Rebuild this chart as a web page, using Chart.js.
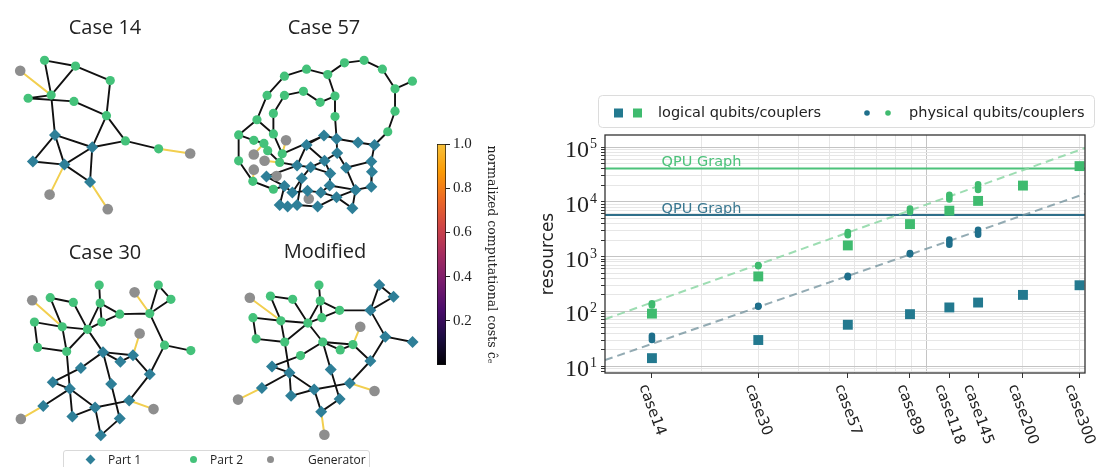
<!DOCTYPE html>
<html>
<head>
<meta charset="utf-8">
<script src="https://cdn.jsdelivr.net/npm/chart.js@4.4.1/dist/chart.umd.min.js"></script>
<style>
    html, body { margin: 0; padding: 0; background: #fff; }
    body { width: 1097px; height: 467px; position: relative; overflow: hidden; font-family: 'Open Sans', sans-serif; }
    .box { position: absolute; }
    .box canvas { display: block; }
    #legL { position: absolute; left: 63px; top: 450px; width: 305px; height: 30px; border: 1px solid #d9d9d9; border-radius: 3px; background: #fff; }
    #legL span { position: absolute; }
    #legL .tx { top: 1px; font-size: 12px; color: #222; line-height: 16px; }
    .dia { width: 7px; height: 7px; background: #2e7f98; transform: rotate(45deg); top: 5px; }
    .dot { width: 7px; height: 7px; border-radius: 50%; top: 5px; }
</style>
</head>
<body>
<div class="box" style="left:0;top:0;width:230px;height:230px"><canvas id="g14"></canvas></div>
<div class="box" style="left:220px;top:0;width:230px;height:230px"><canvas id="g57"></canvas></div>
<div class="box" style="left:0;top:230px;width:230px;height:237px"><canvas id="g30"></canvas></div>
<div class="box" style="left:220px;top:230px;width:250px;height:237px"><canvas id="gmod"></canvas></div>
<div class="box" style="left:425px;top:130px;width:80px;height:250px"><canvas id="cbar"></canvas></div>
<div id="legL">
    <span class="dia" style="left:23px"></span><span class="tx" style="left:44px">Part 1</span>
    <span class="dot" style="left:126px;background:#44c27a"></span><span class="tx" style="left:146px">Part 2</span>
    <span class="dot" style="left:203px;background:#8e8e8e"></span><span class="tx" style="left:244px">Generator</span>
</div>
<div class="box" style="left:515px;top:85px;width:582px;height:382px"><canvas id="res"></canvas></div>

<script>
// ---- resources chart data ----
const caseNames = ['case14', 'case30', 'case57', 'case89', 'case118', 'case145', 'case200', 'case300'];
const busCounts = [14, 30, 57, 89, 118, 145, 200, 300];
const logicalQubits = [14, 30, 57, 89, 118, 145, 200, 300];
const logicalCouplers = [91, 435, 1600, 3920, 6900, 10400, 19800, 44900];
const physicalQubitsRuns = [
    [30, 122, 420, 1100, 1650, 2500, null, null],
    [33, 124, 433, 1130, 1850, 2750, null, null],
    [36, 126, 445, 1160, 2050, 3100, null, null]
];
const physicalCouplersRuns = [
    [128, 670, 2450, 6500, 11000, 16500, null, null],
    [134, 686, 2600, 7000, 12300, 18500, null, null],
    [140, 700, 2800, 7500, 13500, 21000, null, null]
];
const fitX = [10, 312];
const fitQubits = [12.9, 14000];
const fitCouplers = [72, 96000];
const qpuQubits = 5760;
const qpuCouplers = 40484;
const qpuLabelX = 15;
const xMin = 10, xMax = 312, yMin = 7.5, yMax = 166000;
const xGridValues = [20, 30, 40, 50, 60, 70, 80, 90, 100, 200, 300];
const yExponents = [1, 2, 3, 4, 5];

// ---- colorbar data ----
const cbarTicks = [0.2, 0.4, 0.6, 0.8, 1.0];
const cbarColors = ['#000004', '#1b0c41', '#4a0c6b', '#781c6d', '#a52c60', '#cf4446', '#ed6925', '#fb9b06', '#f7c13a'];

// ---- graph layouts (node x, y in layout units; part: 1 = Part 1, 2 = Part 2, 0 = Generator) ----
const case14Nodes = [[122,172],[220,190],[330,236],[143,282],[70,292],[215,302],[318,347],[378,427],[483,452],
    [155,408],[273,447],[85,492],[185,502],[266,557],[45,205],[583,467],[138,597],[322,643]];
const case14Parts = [2,2,2,2,2,2,2,2,2,1,1,1,1,1,0,0,0,0];
const case14Edges = [[0,1],[0,3],[1,3],[1,2],[2,6],[4,3],[4,5],[5,6],[3,9],[6,10],[6,7],[7,10],[7,8],
    [9,10],[9,11],[9,12],[11,12],[12,10],[12,13],[10,13]];
const case14GenEdges = [[14,3],[15,8],[16,12],[17,13]];

const case57Nodes = [[40,408],[98,360],[130,283],[185,222],[255,200],[322,217],[375,180],[437,172],[495,200],
    [535,262],[590,238],[535,333],[512,398],[150,340],[185,283],[245,270],[298,305],[345,285],[345,350],
    [150,405],[88,425],[120,435],[178,468],[170,495],[40,490],[85,555],[150,580],[132,458],
    [310,410],[350,420],[418,432],[470,440],[255,440],[352,465],[460,492],[225,505],[268,510],[312,490],
    [380,512],[462,525],[128,540],[185,570],[240,545],[330,530],[328,568],[410,582],[460,572],[170,630],
    [195,635],[225,630],[290,635],[350,605],[400,640],[210,590],[258,585],[300,590],
    [190,425],[88,470],[122,490],[88,518],[160,538],[262,610]];
const case57Parts = [2,2,2,2,2,2,2,2,2,2,2,2,2,2,2,2,2,2,2,2,2,2,2,2,2,2,2,2,
    1,1,1,1,1,1,1,1,1,1,1,1,1,1,1,1,1,1,1,1,1,1,1,1,1,1,1,1,0,0,0,0,0,0];
const case57Edges = [[24,0],[0,1],[1,2],[2,3],[3,4],[4,5],[5,6],[6,7],[7,8],[8,9],[9,10],[9,11],[11,12],
    [12,31],[31,30],[30,29],[29,28],[19,13],[13,14],[14,15],[15,16],[16,17],[5,17],[17,18],[18,29],
    [0,20],[1,19],[20,21],[21,27],[19,22],[22,23],[27,23],[24,25],[25,26],[26,41],[28,32],[32,35],
    [35,40],[29,33],[33,37],[37,36],[36,35],[33,38],[38,34],[34,31],[34,39],[39,46],[46,45],[45,38],
    [45,51],[51,50],[50,49],[49,48],[48,47],[47,41],[41,53],[53,54],[54,55],[55,44],[44,43],[43,37],
    [42,36],[42,53],[42,49],[55,51],[44,45],[52,45],[52,51],[28,22],[23,35],[40,41],[36,43],[32,37]];
const case57GenEdges = [[56,22],[57,21],[58,23],[59,25],[60,40],[61,54]];

const case30Nodes = [[295,155],[482,155],[140,195],[213,210],[298,212],[522,200],[360,247],[455,245],
    [90,272],[178,287],[258,295],[303,272],[100,352],[192,365],[502,345],[585,362],
    [307,367],[402,377],[362,397],[237,417],[455,437],[148,462],[202,483],[333,468],[390,520],
    [118,537],[282,542],[210,570],[360,577],[300,630],
    [83,203],[407,178],[423,308],[467,547],[47,578]];
const case30Parts = [2,2,2,2,2,2,2,2,2,2,2,2,2,2,2,2,1,1,1,1,1,1,1,1,1,1,1,1,1,1,0,0,0,0,0];
const case30Edges = [[0,4],[2,3],[2,9],[3,10],[8,9],[8,12],[12,13],[9,13],[9,10],[10,11],[10,4],[4,11],
    [4,6],[11,6],[6,7],[7,1],[7,5],[1,5],[7,14],[14,15],[14,20],[10,13],[10,16],[13,22],[16,19],
    [19,21],[16,18],[16,17],[18,17],[17,20],[20,24],[16,23],[23,28],[21,22],[22,25],[22,26],[22,27],
    [27,26],[26,24],[26,29],[29,28]];
const case30GenEdges = [[30,9],[31,7],[32,17],[33,24],[34,25]];

const modNodes = [[293,155],[483,155],[140,190],[210,200],[297,205],[528,192],[358,235],[455,235],
    [85,258],[173,268],[258,275],[302,258],[95,325],[185,335],[502,318],[588,335],
    [305,335],[400,343],[360,360],[235,378],[455,395],[145,412],[200,432],[330,422],[390,465],
    [113,480],[278,485],[205,505],[358,515],[300,555],
    [75,195],[423,287],[468,490],[38,517],[310,628]];
const modParts = [2,1,2,2,2,1,2,1,2,2,2,2,2,2,1,1,2,2,2,2,1,1,1,1,1,1,1,1,1,1,0,0,0,0,0];
const modGenEdges = [[30,9],[31,17],[32,24],[33,25],[34,29]];

const colBlue = '#2e7f98', colGreen = '#44c27a', colGray = '#8e8e8e', colYellow = '#f2cf4f';

// ---- 1. NETWORK GRAPHS ----
const graphTitle = {
    id: 'graphTitle',
    afterDraw(chart, args, opts) {
        const ctx = chart.ctx;
        ctx.save();
        ctx.font = '20px "Open Sans"';
        ctx.fillStyle = '#222';
        ctx.textAlign = 'center';
        ctx.textBaseline = 'middle';
        ctx.fillText(opts.text, opts.x, opts.y);
        ctx.restore();
    }
};

function drawGraph(id, title, tx, ty, nodes, parts, edges, genEdges, w, h) {
    const pick = code => nodes.filter((p, i) => parts[i] === code).map(p => ({ x: p[0], y: p[1] }));
    const seg = list => list.flatMap(([a, b]) => [
        { x: nodes[a][0], y: nodes[a][1] }, { x: nodes[b][0], y: nodes[b][1] }, { x: null, y: null }
    ]);
    new Chart(document.getElementById(id), {
        type: 'scatter',
        data: {
            datasets: [
                { data: pick(1), pointStyle: 'rectRot', pointRadius: 6, backgroundColor: colBlue, borderWidth: 0, clip: false },
                { data: pick(2), pointStyle: 'circle', pointRadius: 4.6, backgroundColor: colGreen, borderWidth: 0, clip: false },
                { data: pick(0), pointStyle: 'circle', pointRadius: 5.3, backgroundColor: colGray, borderWidth: 0, clip: false },
                { type: 'line', data: seg(genEdges), borderColor: colYellow, borderWidth: 2, pointRadius: 0, spanGaps: false, clip: false },
                { type: 'line', data: seg(edges), borderColor: '#111', borderWidth: 1.9, pointRadius: 0, spanGaps: false, clip: false }
            ]
        },
        options: {
            responsive: true,
            maintainAspectRatio: false,
            animation: false,
            events: [],
            layout: { padding: 0 },
            scales: {
                x: { type: 'linear', display: false, min: 0, max: w * 3 },
                y: { type: 'linear', display: false, min: 0, max: h * 3, reverse: true }
            },
            plugins: {
                legend: { display: false },
                tooltip: { enabled: false },
                graphTitle: { text: title, x: tx, y: ty }
            }
        },
        plugins: [graphTitle]
    });
}

drawGraph('g14', 'Case 14', 105, 28, case14Nodes, case14Parts, case14Edges, case14GenEdges, 230, 230);
drawGraph('g57', 'Case 57', 104, 28, case57Nodes, case57Parts, case57Edges, case57GenEdges, 230, 230);
drawGraph('g30', 'Case 30', 105, 23, case30Nodes, case30Parts, case30Edges, case30GenEdges, 230, 237);
drawGraph('gmod', 'Modified', 105, 22, modNodes, modParts, case30Edges, modGenEdges, 250, 237);

// ---- 2. COLORBAR ----
new Chart(document.getElementById('cbar'), {
    type: 'bar',
    data: {
        labels: [''],
        datasets: [{
            data: [1],
            backgroundColor: c => {
                const a = c.chart.chartArea;
                if (!a) return null;
                const g = c.chart.ctx.createLinearGradient(0, a.bottom, 0, a.top);
                cbarColors.forEach((col, i) => g.addColorStop(i / (cbarColors.length - 1), col));
                return g;
            },
            borderColor: '#111',
            borderWidth: 1,
            borderSkipped: false,
            barPercentage: 1,
            categoryPercentage: 1
        }]
    },
    options: {
        responsive: true,
        maintainAspectRatio: false,
        animation: false,
        events: [],
        layout: { padding: { left: 12, top: 14, bottom: 15, right: 0 } },
        scales: {
            x: { display: false },
            y: {
                position: 'right', min: 0, max: 1,
                afterBuildTicks: s => { s.ticks = cbarTicks.map(v => ({ value: v })); },
                ticks: { font: { family: 'Liberation Serif', size: 15 }, color: '#222', padding: 3, callback: v => v.toFixed(1) },
                grid: { drawOnChartArea: false, tickLength: 4, tickColor: '#222' },
                border: { display: false },
                title: { display: true, text: 'normalized computational costs ĉₑ', color: '#222',
                    font: { family: 'DejaVu Serif', size: 12.5 }, padding: { top: 6, bottom: 0 } },
                afterFit: s => { s.width = 59; }
            }
        },
        plugins: { legend: { display: false }, tooltip: { enabled: false } }
    }
});

// ---- 3. RESOURCES CHART ----
const pairs = (xs, ys) => xs.map((x, i) => ({ x: x, y: ys[i] }));

const resDecor = {
    id: 'resDecor',
    afterDraw(chart) {
        const { ctx, chartArea: a, scales: { x, y } } = chart;
        ctx.save();
        // frame
        ctx.strokeStyle = '#333';
        ctx.lineWidth = 1.3;
        ctx.strokeRect(a.left, a.top, a.width, a.height);

        // y tick labels 10^n
        ctx.fillStyle = '#222';
        ctx.textAlign = 'right';
        ctx.textBaseline = 'alphabetic';
        yExponents.forEach(e => {
            const py = y.getPixelForValue(Math.pow(10, e));
            ctx.font = '14px "Liberation Serif"';
            const ew = ctx.measureText(String(e)).width;
            ctx.fillText(String(e), a.left - 8, py + 1);
            ctx.font = '24px "Liberation Serif"';
            ctx.fillText('10', a.left - 9 - ew, py + 10);
        });

        // rotated case labels
        ctx.font = '15px "DejaVu Sans"';
        ctx.textAlign = 'center';
        ctx.textBaseline = 'middle';
        const th = 70 * Math.PI / 180;
        caseNames.forEach((name, i) => {
            const px = x.getPixelForValue(busCounts[i]);
            const L = ctx.measureText(name).width;
            const bh = L * Math.sin(th) + 11 * Math.cos(th);
            ctx.save();
            ctx.translate(px, a.bottom + 10 + bh / 2);
            ctx.rotate(th);
            ctx.fillText(name, 0, 0);
            ctx.restore();
        });

        // QPU Graph labels
        ctx.font = '14.5px "DejaVu Sans"';
        ctx.textAlign = 'left';
        ctx.textBaseline = 'alphabetic';
        const lx = x.getPixelForValue(qpuLabelX);
        ctx.fillStyle = '#4cc27a';
        ctx.fillText('QPU Graph', lx, y.getPixelForValue(qpuCouplers) - 3);
        ctx.fillStyle = '#3a7891';
        ctx.fillText('QPU Graph', lx, y.getPixelForValue(qpuQubits) - 2);

        // legend
        ctx.strokeStyle = '#dcdcdc';
        ctx.lineWidth = 1;
        ctx.beginPath();
        ctx.roundRect(83.5, 10.5, 496, 32, 4);
        ctx.stroke();
        const ly = 28;
        ctx.fillStyle = '#23798f'; ctx.fillRect(99, ly - 4.5, 9, 9);
        ctx.fillStyle = '#3fbb6f'; ctx.fillRect(118, ly - 4.5, 9, 9);
        ctx.fillStyle = '#1f6f8b'; ctx.beginPath(); ctx.arc(352, ly, 2.8, 0, Math.PI * 2); ctx.fill();
        ctx.fillStyle = '#3fbb6f'; ctx.beginPath(); ctx.arc(373, ly, 2.8, 0, Math.PI * 2); ctx.fill();
        ctx.fillStyle = '#222';
        ctx.font = '14.5px "DejaVu Sans"';
        ctx.textBaseline = 'middle';
        ctx.fillText('logical qubits/couplers', 143, ly);
        ctx.fillText('physical qubits/couplers', 394, ly);
        ctx.restore();
    }
};

const yGridValues = [8, 9];
yExponents.forEach(e => [1, 2, 3, 4, 5, 6, 7, 8, 9].forEach(m => {
    const v = m * Math.pow(10, e);
    if (v <= yMax) yGridValues.push(v);
}));

new Chart(document.getElementById('res'), {
    type: 'scatter',
    data: {
        datasets: [
            ...physicalQubitsRuns.map(run => ({ data: pairs(busCounts, run), pointRadius: 3.3, backgroundColor: '#1f6f8b', borderWidth: 0 })),
            ...physicalCouplersRuns.map(run => ({ data: pairs(busCounts, run), pointRadius: 3.3, backgroundColor: '#3fbb6f', borderWidth: 0 })),
            { data: pairs(busCounts, logicalQubits), pointStyle: 'rect', pointRadius: 7, backgroundColor: '#23798f', borderWidth: 0 },
            { data: pairs(busCounts, logicalCouplers), pointStyle: 'rect', pointRadius: 7, backgroundColor: '#3fbb6f', borderWidth: 0 },
            { type: 'line', data: pairs(fitX, fitQubits), borderColor: 'rgba(120,150,160,0.8)', borderWidth: 2, borderDash: [8, 5], pointRadius: 0 },
            { type: 'line', data: pairs(fitX, fitCouplers), borderColor: 'rgba(140,215,165,0.85)', borderWidth: 2, borderDash: [8, 5], pointRadius: 0 },
            { type: 'line', data: pairs([xMin, xMax], [qpuQubits, qpuQubits]), borderColor: '#2f6f8a', borderWidth: 2, pointRadius: 0 },
            { type: 'line', data: pairs([xMin, xMax], [qpuCouplers, qpuCouplers]), borderColor: '#4cc27a', borderWidth: 2, pointRadius: 0 }
        ]
    },
    options: {
        responsive: true,
        maintainAspectRatio: false,
        animation: false,
        events: [],
        layout: { padding: { top: 50, right: 12, left: 0, bottom: 0 } },
        scales: {
            x: {
                type: 'logarithmic', position: 'bottom', min: xMin, max: xMax,
                afterBuildTicks: s => { s.ticks = busCounts.map(v => ({ value: v })); },
                ticks: { display: false },
                grid: { drawOnChartArea: false, tickLength: 5, tickColor: '#333' },
                border: { display: false },
                afterFit: s => { s.height = 94; }
            },
            xg: {
                type: 'logarithmic', position: 'top', min: xMin, max: xMax,
                afterBuildTicks: s => { s.ticks = xGridValues.map(v => ({ value: v })); },
                ticks: { display: false },
                grid: { drawTicks: false, color: c => (c.tick && c.tick.value === 100) ? '#c4c4c4' : '#e6e6e6' },
                border: { display: false },
                afterFit: s => { s.height = 0; }
            },
            y: {
                type: 'logarithmic', min: yMin, max: yMax,
                afterBuildTicks: s => { s.ticks = yGridValues.map(v => ({ value: v })); },
                ticks: { display: false },
                grid: {
                    color: c => (c.tick && yExponents.some(e => Math.abs(c.tick.value - Math.pow(10, e)) < 1e-6)) ? '#c4c4c4' : '#e6e6e6',
                    tickLength: 4, tickColor: '#333'
                },
                border: { display: false },
                title: { display: true, text: 'resources', color: '#222', font: { family: 'DejaVu Sans', size: 17 }, padding: { top: 23, bottom: 0 } },
                afterFit: s => { s.width = 90; }
            }
        },
        plugins: { legend: { display: false }, tooltip: { enabled: false } }
    },
    plugins: [resDecor]
});
</script>
</body>
</html>
